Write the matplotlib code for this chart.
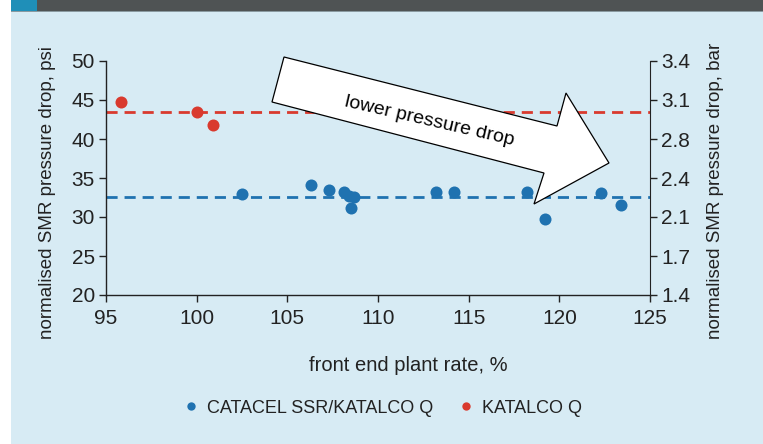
import matplotlib.pyplot as plt
from matplotlib.patches import Polygon, Rectangle
from matplotlib.lines import Line2D

plt.rcParams['font.family'] = ['Liberation Sans', 'DejaVu Sans']

# data (psi vs front end plant rate %)
catacel_rate = [102.5, 106.3, 107.3, 108.1, 108.4, 108.7, 108.5,
                113.2, 114.2, 118.2, 119.2, 122.3, 123.4]
catacel_dp = [32.9, 34.1, 33.5, 33.2, 32.7, 32.6, 31.2,
              33.2, 33.2, 33.2, 29.8, 33.1, 31.5]
katalco_rate = [95.8, 100.0, 100.9]
katalco_dp = [44.7, 43.5, 41.8]
catacel_mean = 32.6
katalco_mean = 43.4

psi_ticks = [20, 25, 30, 35, 40, 45, 50]
bar_labels = ['1.4', '1.7', '2.1', '2.4', '2.8', '3.1', '3.4']

bg = '#d7ebf4'
blue = '#1f72b0'
red = '#d93a2e'
ink = '#222222'

W, H = 763, 444
fig = plt.figure(figsize=(W / 100, H / 100), dpi=100)
fig.patch.set_facecolor('white')

def px(x, y):
    # pixel position (from top-left) -> figure fraction
    return x / W, 1 - y / H

# background panel and header bar
fig.patches.append(Rectangle((11 / W, 0), 1, 1, transform=fig.transFigure,
                             facecolor=bg, edgecolor='none', zorder=-10))
fig.patches.append(Rectangle((11 / W, 1 - 11 / H), 1, 11 / H, transform=fig.transFigure,
                             facecolor='#4f5354', edgecolor='none', zorder=-9))
fig.patches.append(Rectangle((11 / W, 1 - 11 / H), 26 / W, 11 / H, transform=fig.transFigure,
                             facecolor='#1f8fb8', edgecolor='none', zorder=-8))
fig.patches.append(Rectangle((11 / W, 1 - 12 / H), 1, 1 / H, transform=fig.transFigure,
                             facecolor='#8a9aa0', edgecolor='none', zorder=-8))

ax = fig.add_axes([106 / W, 1 - 295 / H, 544 / W, 234 / H])
ax.set_facecolor('none')
ax.set_xlim(95, 125)
ax.set_ylim(20, 50)
ax.set_xticks(range(95, 126, 5))
ax.set_yticks(psi_ticks)

ax.axhline(katalco_mean, color=red, lw=2, ls=(0, (4, 2.5)), zorder=2)
ax.axhline(catacel_mean, color=blue, lw=2, ls=(0, (4, 2.5)), zorder=2)
ax.scatter(katalco_rate, katalco_dp, s=75, color=red, zorder=3, linewidths=0)
ax.scatter(catacel_rate, catacel_dp, s=75, color=blue, zorder=3, linewidths=0)

for s in ['top', 'right']:
    ax.spines[s].set_visible(False)
for s in ['left', 'bottom']:
    ax.spines[s].set_color(ink)
    ax.spines[s].set_linewidth(1)
ax.tick_params(colors=ink, labelsize=15, length=5, width=1, direction='out', pad=3)
ax.tick_params(axis='x', pad=5)

ax2 = ax.twinx()
ax2.set_ylim(20, 50)
ax2.set_yticks(psi_ticks)
ax2.set_yticklabels(bar_labels)
for s in ['top', 'left', 'bottom']:
    ax2.spines[s].set_visible(False)
ax2.spines['right'].set_color(ink)
ax2.tick_params(colors=ink, labelsize=15, length=5, width=1, direction='out', pad=3)

fig.text(*px(408, 365), 'front end plant rate, %', fontsize=14.5, color=ink,
         ha='center', va='center')
fig.text(*px(48, 193), 'normalised SMR pressure drop, psi', fontsize=13.5, color=ink,
         ha='center', va='center', rotation=90)
fig.text(*px(715, 191), 'normalised SMR pressure drop, bar', fontsize=13.5, color=ink,
         ha='center', va='center', rotation=90)

# arrow annotation
arrow_px = [(284, 57), (557, 126), (566, 93), (609, 163), (534, 204), (544, 173), (272, 102)]
fig.patches.append(Polygon([px(x, y) for x, y in arrow_px], closed=True,
                           transform=fig.transFigure, facecolor='white',
                           edgecolor='black', lw=0.9, zorder=5))
fig.text(*px(429, 121), 'lower pressure drop', rotation=-13, fontsize=14,
         ha='center', va='center', color='black', zorder=6)

handles = [Line2D([], [], ls='none', marker='o', ms=6, color=blue, mew=0),
           Line2D([], [], ls='none', marker='o', ms=6, color=red, mew=0)]
fig.legend(handles, ['CATACEL SSR/KATALCO Q', 'KATALCO Q'], loc='center',
           bbox_to_anchor=px(381, 408), ncol=2, frameon=False,
           fontsize=13, handletextpad=0.3, columnspacing=1.2, handlelength=1.2,
           labelcolor=ink)

fig.savefig('out.png', dpi=100, facecolor=fig.get_facecolor())
